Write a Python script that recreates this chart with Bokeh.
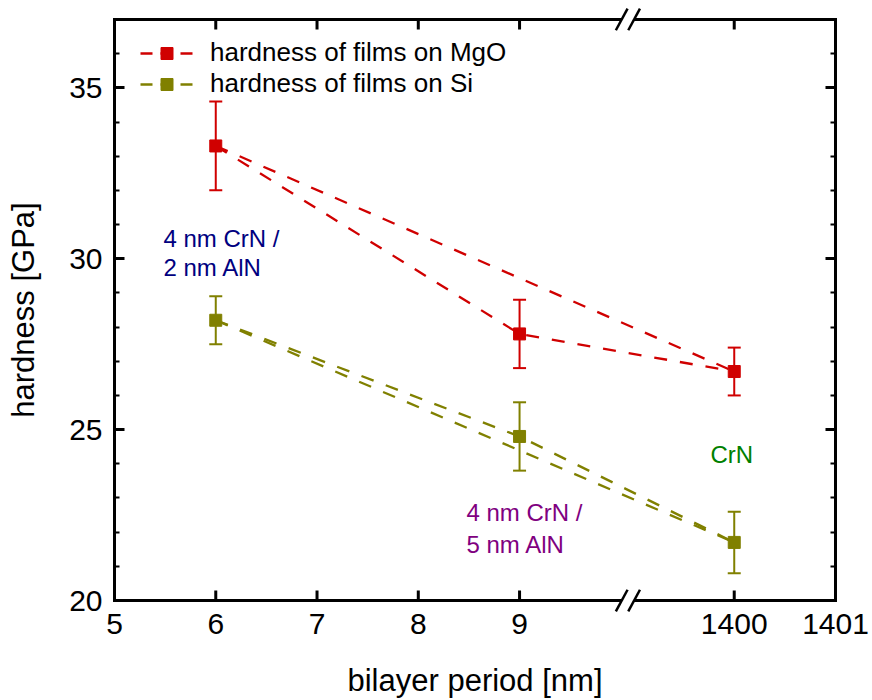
from bokeh.plotting import figure
from bokeh.models import (Range1d, LinearAxis, FixedTicker, CustomJSTickFormatter,
                          ColumnDataSource, Whisker, TeeHead, Legend, LegendItem, Label)
from bokeh.embed import file_html
from bokeh.resources import INLINE

# ---------------- data ----------------
periods_nm = [6, 9, 1400]
hardness_mgo = [33.3, 27.8, 26.7]
error_mgo = [1.3, 1.0, 0.7]
hardness_si = [28.2, 24.8, 21.7]
error_si = [0.7, 1.0, 0.9]

x_tick_values = [5, 6, 7, 8, 9, 1400, 1401]
x_tick_labels = ["5", "6", "7", "8", "9", "1400", "1401"]
y_tick_values = [20, 25, 30, 35]
y_minor_values = [21, 22, 23, 24, 26, 27, 28, 29, 31, 32, 33, 34, 36]

series_names = ["hardness of films on MgO", "hardness of films on Si"]
RED = "#d00000"
OLIVE = "#808000"
FONT = "Liberation Sans"

# ------------- broken x axis -------------
SEG2_ORIGIN = 1400      # first value of the second segment
SEG2_POS = 11.12        # where it sits on the axis
BREAK_POS = 10.07       # axis position of the break marks


def axis_pos(x):
    return x if x < 100 else SEG2_POS + (x - SEG2_ORIGIN)


X0, X1 = 5, axis_pos(1401)
Y0, Y1 = 20, 37
W, H = 872, 700
BOX_L, BOX_R, BOX_T, BOX_B = 114, 835, 19, 601     # visible axis box (px)
EXT = 12                                           # frame extends beyond the box top/bottom
dxp = (X1 - X0) / (BOX_R - BOX_L)
dyp = (Y1 - Y0) / (BOX_B - BOX_T)

p = figure(width=W, height=H,
           x_range=Range1d(X0, X1),
           y_range=Range1d(Y0 - EXT * dyp, Y1 + EXT * dyp),
           output_backend="svg", toolbar_location=None,
           min_border_left=BOX_L, min_border_right=W - BOX_R,
           min_border_top=BOX_T - EXT, min_border_bottom=H - BOX_B - EXT)
p.outline_line_color = None
p.xgrid.visible = False
p.ygrid.visible = False
p.background_fill_color = "white"
p.border_fill_color = "white"

xpos = [axis_pos(v) for v in periods_nm]
xtick_pos = [axis_pos(v) for v in x_tick_values]
x_ticker = FixedTicker(ticks=xtick_pos, minor_ticks=[])
y_ticker = FixedTicker(ticks=y_tick_values, minor_ticks=y_minor_values)
x_fmt = CustomJSTickFormatter(args=dict(pos=xtick_pos, lab=x_tick_labels),
                              code="const i = pos.findIndex(q => Math.abs(q - tick) < 1e-6); return i >= 0 ? lab[i] : '';")
blank_fmt = CustomJSTickFormatter(code="return '';")

AX_W = 3


def style_axis(ax, ticker):
    ax.ticker = ticker
    ax.axis_line_width = AX_W
    ax.axis_line_color = "black"
    ax.axis_line_cap = "square"
    ax.major_tick_in = 10
    ax.major_tick_out = 0
    ax.major_tick_line_width = AX_W
    ax.major_tick_line_color = "black"
    ax.minor_tick_in = 5
    ax.minor_tick_out = 0
    ax.minor_tick_line_width = 2
    ax.minor_tick_line_color = "black"
    ax.major_label_text_font = FONT
    ax.major_label_text_font_size = "30px"
    ax.major_label_text_color = "black"
    ax.axis_label_text_font = FONT
    ax.axis_label_text_font_size = "31px"
    ax.axis_label_text_font_style = "normal"
    ax.axis_label_text_color = "black"


# bottom axis: labels only (line and ticks drawn below so the break marks are not clipped)
xb = p.xaxis[0]
style_axis(xb, x_ticker)
xb.formatter = x_fmt
xb.axis_label = "bilayer period [nm]"
xb.axis_line_color = None
xb.major_tick_in = 0
xb.major_tick_line_color = None
xb.minor_tick_line_color = None
xb.major_label_standoff = 13 - EXT
xb.axis_label_standoff = 26

yl = p.yaxis[0]
style_axis(yl, y_ticker)
yl.bounds = (Y0, Y1)
yl.axis_label = "hardness [GPa]"
yl.major_label_standoff = 12
yl.axis_label_standoff = 25

yr = LinearAxis()
style_axis(yr, y_ticker)
yr.bounds = (Y0, Y1)
yr.formatter = blank_fmt
yr.major_label_text_font_size = "0px"
yr.major_label_standoff = 0
p.add_layout(yr, "right")

# horizontal box edges with their inward ticks
p.segment(x0=[X0, X0], y0=[Y0, Y1], x1=[X1, X1], y1=[Y0, Y1],
          line_color="black", line_width=AX_W, line_cap="square")
n = len(xtick_pos)
p.segment(x0=xtick_pos, y0=[Y0] * n, x1=xtick_pos, y1=[Y0 + 10 * dyp] * n,
          line_color="black", line_width=AX_W)
p.segment(x0=xtick_pos, y0=[Y1] * n, x1=xtick_pos, y1=[Y1 - 10 * dyp] * n,
          line_color="black", line_width=AX_W)

# axis break marks "//"
half_gap, sl_dx, sl_dy, g = 6.2, 5.85, 10.8, 3.0
r = sl_dx / sl_dy
for cy in (Y0, Y1):
    c1 = BREAK_POS - half_gap * dxp
    c2 = BREAK_POS + half_gap * dxp
    p.patch(x=[c1 - g * r * dxp, c2 - g * r * dxp, c2 + g * r * dxp, c1 + g * r * dxp],
            y=[cy - g * dyp, cy - g * dyp, cy + g * dyp, cy + g * dyp],
            fill_color="white", line_color=None)
    p.segment(x0=[c1 - sl_dx * dxp, c2 - sl_dx * dxp], y0=[cy - sl_dy * dyp] * 2,
              x1=[c1 + sl_dx * dxp, c2 + sl_dx * dxp], y1=[cy + sl_dy * dyp] * 2,
              line_color="black", line_width=2.5)

# ------------- series -------------
DASH = "13 13"
LW = 2.3
legend_items = []
for name, vals, errs, color in [(series_names[0], hardness_mgo, error_mgo, RED),
                                (series_names[1], hardness_si, error_si, OLIVE)]:
    xs = [xpos, [xpos[0], xpos[-1]]]
    ys = [vals, [vals[0], vals[-1]]]
    p.multi_line(xs=xs, ys=ys, line_color=color, line_width=LW, line_dash=DASH)
    src = ColumnDataSource(dict(x=xpos, y=vals,
                                upper=[v + e for v, e in zip(vals, errs)],
                                lower=[v - e for v, e in zip(vals, errs)]))
    pts = p.scatter("x", "y", source=src, marker="square", size=12,
                    fill_color=color, line_color=color, line_width=1)
    wh = Whisker(source=src, base="x", upper="upper", lower="lower", dimension="height",
                 line_color=color, line_width=2,
                 upper_head=TeeHead(size=13, line_color=color, line_width=2),
                 lower_head=TeeHead(size=13, line_color=color, line_width=2))
    p.add_layout(wh)
    # key-only line sample (a single point draws nothing in the plot) for the "- ■ -" key look
    key_line = p.line(x=xpos[:1], y=vals[:1], line_color=color, line_width=LW, line_dash="12 8")
    legend_items.append(LegendItem(label=name, renderers=[key_line, pts]))

legend = Legend(items=legend_items,
                location=(26, 501 + EXT), orientation="vertical", glyph_width=53, glyph_height=30,
                label_height=24, label_standoff=17, spacing=-2, padding=0, margin=0,
                border_line_alpha=0, background_fill_alpha=0,
                label_text_font=FONT, label_text_font_size="26px", label_text_color="black")
p.add_layout(legend)

# ------------- annotations -------------
def add_label(text, sx, sy, color):
    p.add_layout(Label(x=X0 + (sx - BOX_L) * dxp, y=Y0 + (BOX_B - sy) * dyp, text=text,
                       text_color=color, text_font=FONT, text_font_size="24px",
                       text_baseline="alphabetic", text_align="left"))


add_label("4 nm CrN /", 163, 238, "#000080")
add_label("2 nm AlN", 163, 267, "#000080")
add_label("4 nm CrN /", 466, 513, "#800080")
add_label("5 nm AlN", 466, 545, "#800080")
add_label("CrN", 710, 455, "#008000")

open("out.html", "w").write(file_html(p, INLINE))
